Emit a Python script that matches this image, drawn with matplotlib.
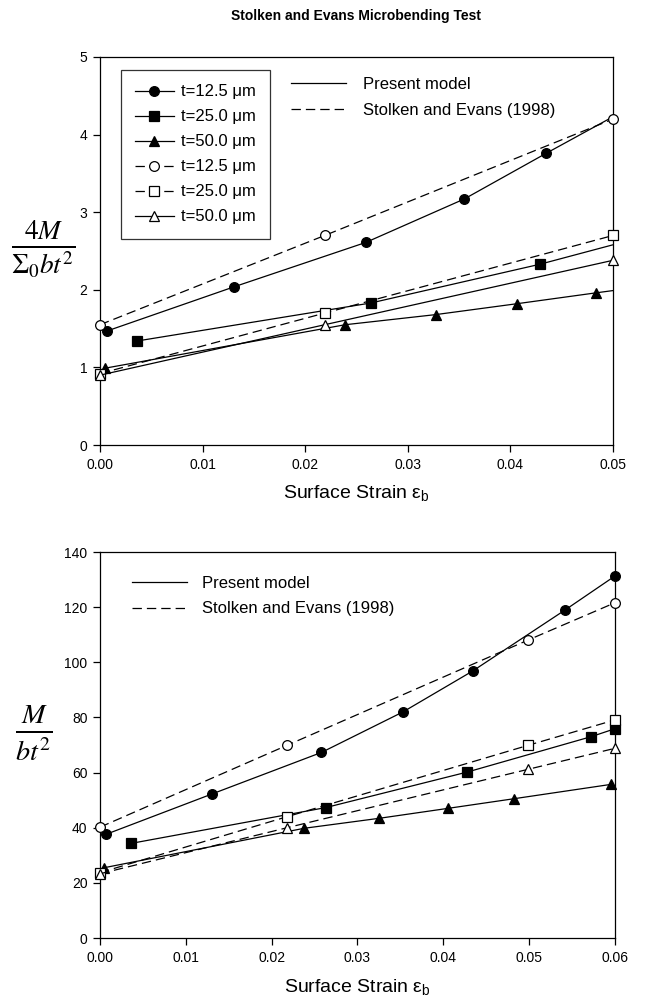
import matplotlib
matplotlib.use("Agg")
import matplotlib.pyplot as plt
from matplotlib.lines import Line2D

plt.rcParams['font.family'] = ['Liberation Sans', 'DejaVu Sans']
plt.rcParams['mathtext.fontset'] = 'custom'
plt.rcParams['mathtext.rm'] = 'Liberation Sans'
plt.rcParams['mathtext.it'] = 'Liberation Sans:italic'

# ---------------- data: top panel ----------------
top_pm125_x = [0.0007, 0.0131, 0.0259, 0.0355, 0.0435, 0.05]
top_pm125_y = [1.47, 2.04, 2.61, 3.17, 3.76, 4.23]
top_pm25_x = [0.0036, 0.0264, 0.0429, 0.05]
top_pm25_y = [1.34, 1.83, 2.33, 2.58]
top_pm50_x = [0.0005, 0.0239, 0.0327, 0.0406, 0.0483, 0.05]
top_pm50_y = [0.99, 1.55, 1.68, 1.82, 1.96, 1.99]
top_se125_x = [0.0, 0.0219, 0.05]
top_se125_y = [1.55, 2.70, 4.20]
top_se25_x = [0.0, 0.0219, 0.05]
top_se25_y = [0.92, 1.70, 2.70]
top_se50_x = [0.0, 0.0219, 0.05]
top_se50_y = [0.90, 1.55, 2.38]

# ---------------- data: bottom panel ----------------
bot_pm125_x = [0.0007, 0.0131, 0.0258, 0.0353, 0.0434, 0.0542, 0.06]
bot_pm125_y = [37.6, 52.3, 67.3, 82.0, 96.8, 119.0, 131.3]
bot_pm25_x = [0.0036, 0.0263, 0.0428, 0.0572, 0.06]
bot_pm25_y = [34.3, 47.3, 60.2, 73.0, 75.9]
bot_pm50_x = [0.0005, 0.0238, 0.0325, 0.0405, 0.0482, 0.0595]
bot_pm50_y = [25.5, 39.8, 43.4, 47.0, 50.5, 55.7]
bot_se125_x = [0.0, 0.0218, 0.0499, 0.06]
bot_se125_y = [40.2, 69.9, 108.1, 121.6]
bot_se25_x = [0.0, 0.0218, 0.0499, 0.06]
bot_se25_y = [23.7, 44.0, 69.9, 79.1]
bot_se50_x = [0.0, 0.0218, 0.0499, 0.06]
bot_se50_y = [23.3, 40.0, 61.2, 68.8]

legend_labels = ["t=12.5 μm", "t=25.0 μm", "t=50.0 μm",
                 "t=12.5 μm", "t=25.0 μm", "t=50.0 μm"]
style_labels = ["Present model", "Stolken and Evans (1998)"]

top_xticks = [0.0, 0.01, 0.02, 0.03, 0.04, 0.05]
top_yticks = [0, 1, 2, 3, 4, 5]
bot_xticks = [0.0, 0.01, 0.02, 0.03, 0.04, 0.05, 0.06]
bot_yticks = [0, 20, 40, 60, 80, 100, 120, 140]

DASH = (7.5, 4)
LW = 0.9
MS = 7

fig = plt.figure(figsize=(6.66, 10.02), dpi=100)
ax1 = fig.add_axes([100/666, 1-445/1002, 513/666, 388/1002])
ax2 = fig.add_axes([100/666, 1-938/1002, 515/666, 386/1002])


def series(ax, x, y, marker, filled, dashed, mevery=None):
    kw = dict(color='black', lw=LW, marker=marker, ms=MS,
              mfc='black' if filled else 'white', mec='black', mew=0.9,
              clip_on=False, zorder=3 if filled else 4)
    if mevery is not None:
        kw['markevery'] = mevery
    ln, = ax.plot(x, y, **kw)
    if dashed:
        ln.set_dashes(DASH)
    return ln


# top
h1 = series(ax1, top_pm125_x, top_pm125_y, 'o', True, False, list(range(5)))
h2 = series(ax1, top_pm25_x, top_pm25_y, 's', True, False, list(range(3)))
h3 = series(ax1, top_pm50_x, top_pm50_y, '^', True, False, list(range(5)))
h4 = series(ax1, top_se125_x, top_se125_y, 'o', False, True)
h5 = series(ax1, top_se25_x, top_se25_y, 's', False, True)
h6 = series(ax1, top_se50_x, top_se50_y, '^', False, False)

# bottom
series(ax2, bot_pm125_x, bot_pm125_y, 'o', True, False)
series(ax2, bot_pm25_x, bot_pm25_y, 's', True, False)
series(ax2, bot_pm50_x, bot_pm50_y, '^', True, False)
series(ax2, bot_se125_x, bot_se125_y, 'o', False, True)
series(ax2, bot_se25_x, bot_se25_y, 's', False, True)
series(ax2, bot_se50_x, bot_se50_y, '^', False, True)

for ax, xt, yt, xl, yl, lp in [(ax1, top_xticks, top_yticks, 0.05, 5, 8),
                               (ax2, bot_xticks, bot_yticks, 0.06, 140, 9)]:
    ax.set_xlim(0, xl)
    ax.set_ylim(0, yl)
    ax.set_xticks(xt)
    ax.set_xticklabels(['{:.2f}'.format(v) for v in xt])
    ax.set_yticks(yt)
    ax.set_yticklabels(['{:.0f}'.format(v) for v in yt])
    ax.tick_params(direction='out', length=5, width=0.9, labelsize=10,
                   pad=4, colors='black')
    for s in ax.spines.values():
        s.set_linewidth(0.9)
    ax.set_xlabel(r"Surface Strain ε$_{\mathrm{b}}$", fontsize=14, labelpad=lp)

# legends top
leg1 = ax1.legend([h1, h2, h3, h4, h5, h6], legend_labels, loc='upper left',
                  bbox_to_anchor=(0.041, 0.966), fontsize=12, frameon=True,
                  fancybox=False, edgecolor='black', handlelength=2.3,
                  handletextpad=0.45, labelspacing=0.6, borderpad=0.85,
                  borderaxespad=0)
leg1.get_frame().set_linewidth(0.9)
ax1.add_artist(leg1)

solid = Line2D([], [], color='black', lw=LW)
dashed = Line2D([], [], color='black', lw=LW)
dashed.set_dashes(DASH)
ax1.legend([solid, dashed], style_labels, loc='upper left',
           bbox_to_anchor=(0.36, 0.965), fontsize=12, frameon=False,
           handlelength=3.3, handletextpad=1.0, labelspacing=0.62,
           borderaxespad=0)
ax2.legend([solid, dashed], style_labels, loc='upper left',
           bbox_to_anchor=(0.05, 0.955), fontsize=12, frameon=False,
           handlelength=3.3, handletextpad=0.9, labelspacing=0.62,
           borderaxespad=0)

# y labels (fractions)
fig.text(43/666, 1-249/1002, r"$\frac{4M}{\Sigma_0 bt^2}$", fontsize=28,
         ha='center', va='center', math_fontfamily='stix')
fig.text(34/666, 1-733/1002, r"$\frac{M}{bt^2}$", fontsize=29,
         ha='center', va='center', math_fontfamily='stix')

fig.suptitle("Stolken and Evans Microbending Test", x=356/666, y=1-16/1002,
             fontsize=10, fontweight='bold', va='center')

fig.savefig("out.png", dpi=100)
